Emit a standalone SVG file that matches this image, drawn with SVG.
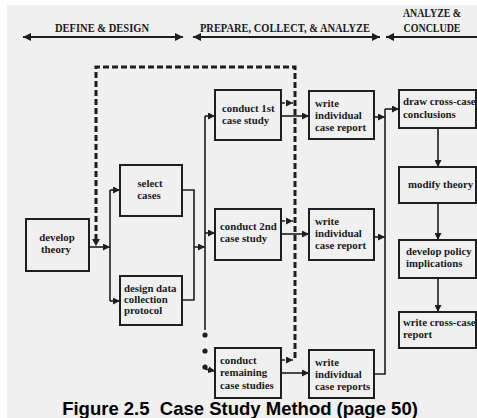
<svg xmlns="http://www.w3.org/2000/svg" width="477" height="418" viewBox="0 0 477 418">
<defs>
<style>
.box{fill:none;stroke:#1e1e1e;stroke-width:2}
.ln{fill:none;stroke:#1e1e1e;stroke-width:1.6}
.ar{fill:none;stroke:#1e1e1e;stroke-width:1.6;marker-end:url(#ah)}
.hd{fill:none;stroke:#1e1e1e;stroke-width:2}
.dash{fill:none;stroke:#1e1e1e;stroke-width:3;stroke-dasharray:6,3}
.sd{fill:none;stroke:#1e1e1e;stroke-width:1.6;stroke-dasharray:3,2;marker-end:url(#ah)}
.t{font-family:"Liberation Serif","Times New Roman",serif;font-weight:bold;font-size:10.8px;fill:#1a1a1a}
.c{text-anchor:middle}
.h{font-family:"Liberation Serif","Times New Roman",serif;font-weight:bold;font-size:12.5px;fill:#1a1a1a}
.cap{font-family:"Liberation Sans",Arial,sans-serif;font-weight:bold;font-size:18.5px;fill:#000;white-space:pre;text-anchor:middle}
</style>
<marker id="ah" viewBox="0 0 8 8" refX="8" refY="4" markerWidth="7" markerHeight="7" markerUnits="userSpaceOnUse" orient="auto-start-reverse">
<path d="M0,0 L8,4 L0,8 z" fill="#1e1e1e"/>
</marker>
<marker id="hh" viewBox="0 0 8 8" refX="8" refY="4" markerWidth="8" markerHeight="8" markerUnits="userSpaceOnUse" orient="auto-start-reverse">
<path d="M0,0 L8,4 L0,8 z" fill="#1e1e1e"/>
</marker>
</defs>
<rect x="0" y="0" width="477" height="418" fill="#ffffff"/>
<rect x="7" y="5" width="470" height="413" fill="#f0f0f0"/>

<g id="headers">
<text class="h" x="102" y="32" text-anchor="middle" textLength="94" lengthAdjust="spacingAndGlyphs">DEFINE &amp; DESIGN</text>
<text class="h" x="285" y="32" text-anchor="middle" textLength="170" lengthAdjust="spacingAndGlyphs">PREPARE, COLLECT, &amp; ANALYZE</text>
<text class="h" x="432" y="17" text-anchor="middle" textLength="58" lengthAdjust="spacingAndGlyphs">ANALYZE &amp;</text>
<text class="h" x="432" y="32" text-anchor="middle" textLength="57" lengthAdjust="spacingAndGlyphs">CONCLUDE</text>
</g>

<g id="connectors">
<path class="hd" d="M23,37 L183,37" marker-start="url(#hh)" marker-end="url(#hh)"/>
<path class="hd" d="M193,37 L380,37" marker-start="url(#hh)" marker-end="url(#hh)"/>
<path class="hd" d="M386,37 L477,37" marker-start="url(#hh)"/>

<path class="dash" d="M96,240 L96,67 L295,67 L295,358"/>
<path d="M92,239 L100,239 L96,246 z" fill="#1e1e1e"/>

<path class="ar" d="M89,247 L110,247"/>
<path class="ln" d="M110,190 L110,301"/>
<path class="ar" d="M110,190 L120,190"/>
<path class="ar" d="M110,301 L120,301"/>

<path class="ln" d="M182,190 L194,190 L194,300 L182,300"/>
<path class="ar" d="M194,247 L205,247"/>

<path class="ln" d="M205,116 L205,330"/>
<path class="ar" d="M205,116 L215,116"/>
<path class="ar" d="M205,233 L215,233"/>
<circle cx="205" cy="335" r="2.6" fill="#1e1e1e"/>
<circle cx="205" cy="351" r="2.6" fill="#1e1e1e"/>
<circle cx="205" cy="367" r="2.6" fill="#1e1e1e"/>
<path class="ar" d="M205,369 L215,371"/>

<path class="sd" d="M282,103 L293,103"/>
<path class="sd" d="M282,221 L293,221"/>
<path class="sd" d="M282,360 L293,360"/>

<path class="ar" d="M281,116 L309,116"/>
<path class="ar" d="M281,234 L309,234"/>
<path class="ar" d="M281,373 L309,373"/>

<path class="ln" d="M374,374 L385,374 L385,109"/>
<path class="ar" d="M374,117 L385,117"/>
<path class="ar" d="M374,237 L385,237"/>
<path class="ar" d="M385,109 L399,109"/>

<path class="ar" d="M438,128 L438,167"/>
<path class="ar" d="M438,203 L438,240"/>
<path class="ar" d="M438,278 L438,312"/>
</g>

<g id="develop-theory">
<rect class="box" x="26" y="219" width="63" height="52"/>
<text class="t c" x="57" y="241">develop</text>
<text class="t c" x="56" y="253">theory</text>
</g>
<g id="select-cases">
<rect class="box" x="120" y="165" width="62" height="51"/>
<text class="t c" x="150" y="187">select</text>
<text class="t c" x="149" y="199">cases</text>
</g>
<g id="design-protocol">
<rect class="box" x="120" y="276" width="62" height="49"/>
<text class="t" x="124" y="292">design data</text>
<text class="t" x="124" y="303">collection</text>
<text class="t" x="124" y="314">protocol</text>
</g>
<g id="conduct-1st">
<rect class="box" x="215" y="90" width="66" height="50"/>
<text class="t" x="222" y="112">conduct 1st</text>
<text class="t" x="222" y="124">case study</text>
</g>
<g id="conduct-2nd">
<rect class="box" x="215" y="209" width="66" height="51"/>
<text class="t" x="220" y="230">conduct 2nd</text>
<text class="t" x="220" y="242">case study</text>
</g>
<g id="conduct-remaining">
<rect class="box" x="215" y="348" width="66" height="50"/>
<text class="t" x="220" y="364">conduct</text>
<text class="t" x="220" y="376">remaining</text>
<text class="t" x="220" y="389">case studies</text>
</g>
<g id="write-1">
<rect class="box" x="309" y="91" width="65" height="48"/>
<text class="t" x="315" y="107">write</text>
<text class="t" x="315" y="119">individual</text>
<text class="t" x="315" y="131">case report</text>
</g>
<g id="write-2">
<rect class="box" x="309" y="209" width="65" height="51"/>
<text class="t" x="315" y="225">write</text>
<text class="t" x="315" y="237">individual</text>
<text class="t" x="315" y="249">case report</text>
</g>
<g id="write-3">
<rect class="box" x="309" y="350" width="65" height="48"/>
<text class="t" x="315" y="366">write</text>
<text class="t" x="315" y="378">individual</text>
<text class="t" x="315" y="390">case reports</text>
</g>
<g id="draw-conclusions">
<rect class="box" x="399" y="90" width="77" height="38"/>
<text class="t" x="403" y="105">draw cross-case</text>
<text class="t" x="403" y="118">conclusions</text>
</g>
<g id="modify-theory">
<rect class="box" x="399" y="167" width="77" height="36"/>
<text class="t" x="408" y="188">modify theory</text>
</g>
<g id="policy-implications">
<rect class="box" x="399" y="240" width="77" height="38"/>
<text class="t" x="406" y="255">develop policy</text>
<text class="t" x="406" y="267">implications</text>
</g>
<g id="cross-case-report">
<rect class="box" x="399" y="312" width="77" height="36"/>
<text class="t" x="403" y="326">write cross-case</text>
<text class="t" x="403" y="338">report</text>
</g>

<text class="cap" x="240" y="415">Figure 2.5  Case Study Method (page 50)</text>
</svg>
